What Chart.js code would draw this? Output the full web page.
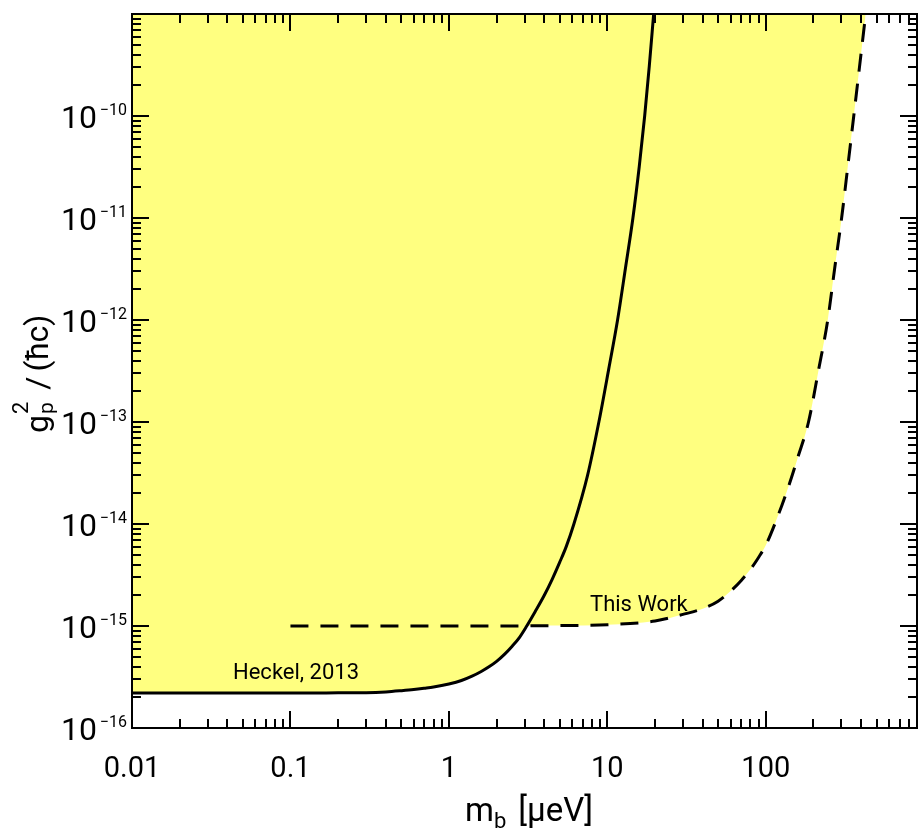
<!DOCTYPE html>
<html lang="en">
<head>
  <meta charset="UTF-8">
  <title>Boson coupling limits</title>
  <script src="https://cdn.jsdelivr.net/npm/chart.js"></script>
  <style>
    body { margin: 0; background: #fff; }
    canvas { display: block; }
  </style>
</head>
<body>
  <canvas id="grafico" width="918" height="835"></canvas>

  <script>
    // Heckel, 2013 (solid curve)
    const massHeckel = [0.01, 0.03, 0.1, 0.2, 0.3, 0.4, 0.5, 0.6, 0.7, 0.8, 1.0, 1.2, 1.4, 1.6, 1.8, 2.0, 2.25, 2.5, 2.8, 3.1, 3.5, 4.0, 4.5, 5.0, 5.5, 6.15, 7.5, 8.84, 10.2, 11.6, 13.0, 14.5, 15.9, 17.2, 18.4, 19.6];
    const coupHeckel = [2.2e-16, 2.2e-16, 2.2e-16, 2.21e-16, 2.22e-16, 2.26e-16, 2.32e-16, 2.38e-16, 2.45e-16, 2.52e-16, 2.7e-16, 2.92e-16, 3.22e-16, 3.58e-16, 4.0e-16, 4.5e-16, 5.3e-16, 6.3e-16, 7.8e-16, 1.0e-15, 1.38e-15, 2.0e-15, 2.9e-15, 4.2e-15, 6.0e-15, 1e-14, 3.0e-14, 1e-13, 3.3e-13, 1e-12, 3.2e-12, 1e-11, 3.2e-11, 1e-10, 3.1e-10, 1e-9];

    // This Work (dashed curve)
    const massThis = [0.1, 1, 5, 10, 20, 30, 40, 50, 60, 70, 80, 90, 100, 114, 140, 160, 186, 215, 246, 272, 301, 330, 359, 390, 427];
    const coupThis = [1e-15, 1e-15, 1.01e-15, 1.03e-15, 1.12e-15, 1.3e-15, 1.48e-15, 1.75e-15, 2.2e-15, 2.8e-15, 3.6e-15, 4.7e-15, 6.2e-15, 1e-14, 2.4e-14, 4.6e-14, 1e-13, 3.2e-13, 1e-12, 3.2e-12, 1e-11, 3.3e-11, 1e-10, 3e-10, 1e-9];

    // the two curves cross here
    const crossMass = 3.1;

    const xTickVals = [0.01, 0.1, 1, 10, 100];
    const xTickLabels = ['0.01', '0.1', '1', '10', '100'];
    const yTickVals = [1e-16, 1e-15, 1e-14, 1e-13, 1e-12, 1e-11, 1e-10];
    const yTickExps = ['\u221216', '\u221215', '\u221214', '\u221213', '\u221212', '\u221211', '\u221210'];

    const pts = (xs, ys) => xs.map((v, i) => ({ x: v, y: ys[i] }));
    const heckel = pts(massHeckel, coupHeckel);
    const thisWork = pts(massThis, coupThis);
    const envelope = heckel.filter(p => p.x <= crossMass).concat(thisWork.filter(p => p.x > crossMass));

    const FONT = 'Roboto, "DejaVu Sans", sans-serif';

    function runs(ctx, parts, x, y) {
      // draws a row of text pieces, each with its own size and vertical offset
      let cx = x;
      parts.forEach(p => {
        ctx.font = p.size + 'px ' + FONT;
        ctx.fillText(p.t, cx, y + (p.dy || 0));
        if (!p.stack) cx += ctx.measureText(p.t).width + (p.gap || 0);
      });
      return cx - x;
    }

    const moldura = {
      id: 'moldura',
      afterDatasetsDraw(chart) {
        const { ctx, chartArea: a, scales: { x, y } } = chart;
        ctx.save();
        ctx.strokeStyle = '#000';
        ctx.fillStyle = '#000';
        ctx.lineWidth = 2;
        ctx.strokeRect(a.left, a.top, a.right - a.left, a.bottom - a.top);

        ctx.beginPath();
        for (let e = -2; e <= 2; e++) {
          for (let m = 1; m <= 9; m++) {
            const v = m * Math.pow(10, e);
            if (v > x.max) break;
            const px = Math.round(x.getPixelForValue(v));
            const len = m === 1 ? 17 : 9;
            ctx.moveTo(px, a.bottom); ctx.lineTo(px, a.bottom - len);
            ctx.moveTo(px, a.top); ctx.lineTo(px, a.top + len);
          }
        }
        for (let e = -16; e <= -10; e++) {
          for (let m = 1; m <= 9; m++) {
            const v = m * Math.pow(10, e);
            const py = Math.round(y.getPixelForValue(v));
            const len = m === 1 ? 17 : 9;
            ctx.moveTo(a.left, py); ctx.lineTo(a.left + len, py);
            ctx.moveTo(a.right, py); ctx.lineTo(a.right - len, py);
          }
        }
        ctx.stroke();

        // x tick labels
        ctx.font = '29px ' + FONT;
        ctx.textAlign = 'center';
        ctx.textBaseline = 'alphabetic';
        xTickVals.forEach((v, i) => ctx.fillText(xTickLabels[i], x.getPixelForValue(v), a.bottom + 49));

        // y tick labels: 10 with raised exponent
        yTickVals.forEach((v, i) => {
          const py = y.getPixelForValue(v);
          ctx.font = '16px ' + FONT;
          ctx.textAlign = 'right';
          ctx.fillText(yTickExps[i], a.left - 5, py - 1);
          const w = ctx.measureText(yTickExps[i]).width;
          ctx.font = '32px ' + FONT;
          ctx.fillText('10', a.left - 5 - w - 3, py + 12);
        });

        // axis titles
        ctx.textAlign = 'left';
        runs(ctx, [
          { t: 'm', size: 33 },
          { t: 'b', size: 22, dy: 7, gap: 12 },
          { t: '[\u03bceV]', size: 33 }
        ], 465, 821);

        ctx.save();
        ctx.translate(48, 433);
        ctx.rotate(-Math.PI / 2);
        runs(ctx, [
          { t: 'g', size: 32, gap: 1 },
          { t: 'p', size: 21, dy: 5, stack: true },
          { t: '2', size: 22, dy: -20, gap: 12 },
          { t: '/', size: 32, gap: 5 },
          { t: '(\u0127c)', size: 32 }
        ], 0, 0);
        ctx.restore();

        // curve labels
        ctx.font = '22px ' + FONT;
        ctx.fillText('Heckel, 2013', 233, 679);
        ctx.fillText('This Work', 590, 611);
        ctx.restore();
      }
    };

    new Chart(document.getElementById('grafico'), {
      type: 'scatter',
      data: {
        datasets: [
          {
            label: 'Heckel, 2013',
            data: heckel,
            showLine: true,
            borderColor: '#000',
            borderWidth: 3,
            pointRadius: 0,
            cubicInterpolationMode: 'monotone',
            fill: false
          },
          {
            label: 'This Work',
            data: thisWork,
            showLine: true,
            borderColor: '#000',
            borderWidth: 3,
            borderDash: [18, 12],
            pointRadius: 0,
            cubicInterpolationMode: 'monotone',
            fill: false
          },
          {
            label: 'excluded',
            data: envelope,
            showLine: true,
            borderWidth: 0,
            borderColor: 'rgba(0,0,0,0)',
            backgroundColor: '#ffff80',
            pointRadius: 0,
            cubicInterpolationMode: 'monotone',
            fill: 'end'
          }
        ]
      },
      options: {
        responsive: false,
        animation: false,
        layout: { padding: { left: 132, right: 1, top: 14, bottom: 107 } },
        plugins: {
          legend: { display: false },
          tooltip: { enabled: false },
          filler: { drawTime: 'beforeDatasetsDraw' }
        },
        scales: {
          x: { type: 'logarithmic', min: 0.01, max: 900, display: false },
          y: { type: 'logarithmic', min: 1e-16, max: 1e-9, display: false }
        }
      },
      plugins: [moldura]
    });
  </script>
</body>
</html>
